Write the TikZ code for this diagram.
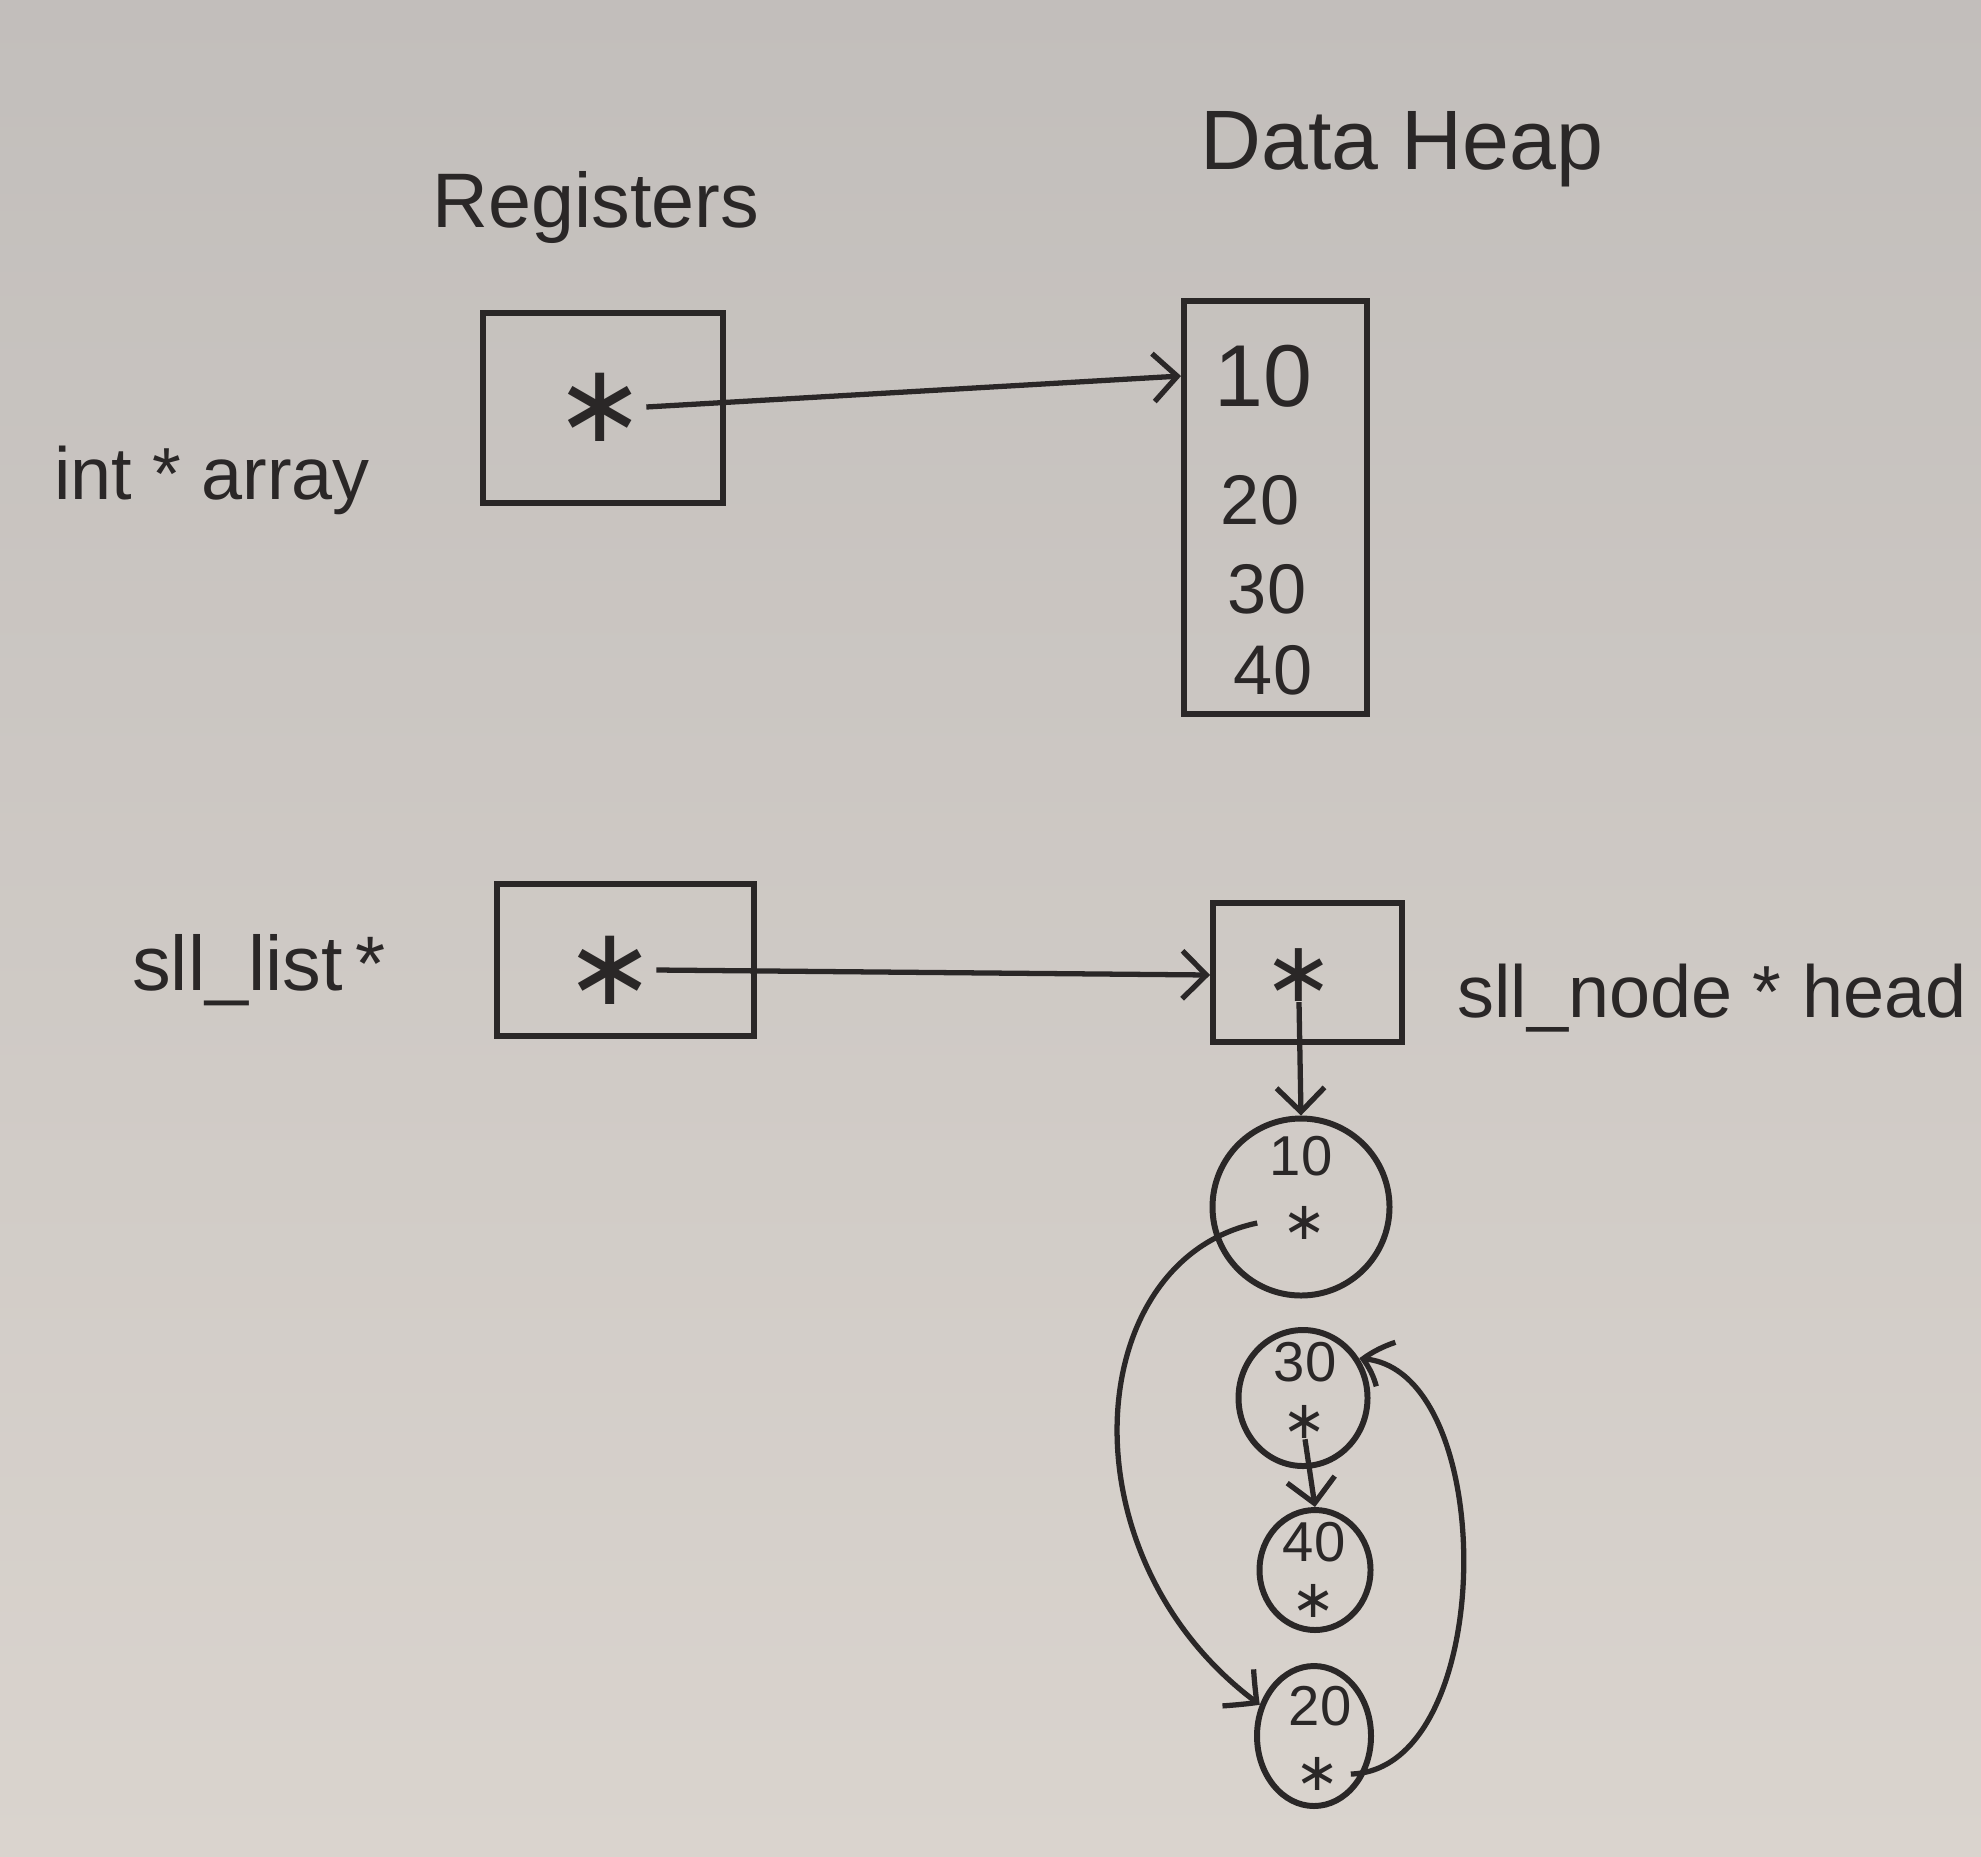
\documentclass[tikz,border=0pt]{standalone}
\usepackage{fontspec}
\setmainfont{Liberation Sans}
\newfontfamily\symfont{DejaVu Sans}
\usetikzlibrary{shapes.geometric,arrows.meta,bending}
\definecolor{ink}{RGB}{42,39,39}
\definecolor{boardtop}{RGB}{194,190,187}
\definecolor{boardbot}{RGB}{218,212,206}
\tikzset{
  stroke/.style={line width=1.7pt, draw=ink},
  box/.style={stroke, rectangle, inner sep=0pt},
  circ/.style={stroke, ellipse, inner sep=0pt},
  bigptr/.style={inner sep=0pt, text=ink, font=\symfont\fontsize{31}{31}\selectfont},
  smallptr/.style={inner sep=0pt, text=ink, font=\symfont\fontsize{15}{15}\selectfont},
  conn/.style={line width=1.5pt, draw=ink, -{Straight Barb[length=2.4mm,width=4.8mm,line width=1.5pt,bend]}},
  title/.style={inner sep=0pt, text=ink, font=\fontsize{23}{27}\selectfont},
  lbl/.style={inner sep=0pt, text=ink, font=\fontsize{21}{24}\selectfont},
  bigval/.style={inner sep=0pt, text=ink, font=\fontsize{25}{28}\selectfont},
  val/.style={inner sep=0pt, text=ink, font=\fontsize{20}{24}\selectfont},
  cval/.style={inner sep=0pt, text=ink, font=\fontsize{16}{19}\selectfont},
}
\begin{document}
\begin{tikzpicture}
\shade[top color=boardtop, bottom color=boardbot] (0,0) rectangle (19.81,-18.56);
\useasboundingbox (0,0) rectangle (19.81,-18.56);

% titles
\node[title, font=\fontsize{22}{26}\selectfont] (treg) at (5.96,-2.08) {Registers};
\node[title, font=\fontsize{24}{28}\selectfont] (theap) at (14.02,-1.49) {Data Heap};

% int * array
\node[lbl] (lblA) at (2.12,-4.80) {int * array};
\node[box, minimum width=2.40cm, minimum height=1.90cm] (reg1) at (6.03,-4.08) {};
\node[bigptr] (s1) at (6.00,-4.07) {∗};

\node[box, minimum width=1.83cm, minimum height=4.13cm] (arr) at (12.755,-5.075) {};
\node[bigval] (a1) at (12.63,-3.76) {10};
\node[val] (a2) at (12.60,-5.00) {20};
\node[val] (a3) at (12.67,-5.89) {30};
\node[val] (a4) at (12.73,-6.70) {40};

\draw[conn] (s1.east) -- (a1 -| arr.west);

% sll_list
\node[lbl, font=\fontsize{22}{25}\selectfont] (lblB) at (2.59,-9.70) {sll\_list\,*};
\node[box, minimum width=2.57cm, minimum height=1.52cm] (reg2) at (6.255,-9.60) {};
\node[bigptr] (s2) at (6.10,-9.70) {∗};

\node[box, minimum width=1.89cm, minimum height=1.39cm] (head) at (13.075,-9.725) {};
\node[smallptr, font=\symfont\fontsize{24}{24}\selectfont] (s3) at (12.99,-9.75) {∗};
\node[lbl] (lblC) at (17.12,-9.98) {sll\_node * head};

\draw[conn] (s2.east) -- (s3 -| head.west);

% list nodes
\node[circ, minimum width=1.77cm, minimum height=1.77cm] (c10) at (13.01,-12.07) {};
\node[cval] (c10v) at (13.01,-11.56) {10};
\node[smallptr] (c10p) at (13.05,-12.23) {∗};

\node[circ, minimum width=1.29cm, minimum height=1.36cm] (c30) at (13.03,-13.98) {};
\node[cval] (c30v) at (13.05,-13.62) {30};
\node[smallptr] (c30p) at (13.05,-14.22) {∗};

\node[circ, minimum width=1.11cm, minimum height=1.20cm] (c40) at (13.15,-15.70) {};
\node[cval] (c40v) at (13.14,-15.42) {40};
\node[smallptr] (c40p) at (13.14,-16.01) {∗};

\node[circ, minimum width=1.14cm, minimum height=1.40cm] (c20) at (13.14,-17.36) {};
\node[cval] (c20v) at (13.20,-17.06) {20};
\node[smallptr] (c20p) at (13.18,-17.74) {∗};

% pointers
\draw[conn] (s3.south) -- (c10.north);
\draw[conn] ([xshift=-2.5mm]c10p.west) .. controls (10.8,-12.6) and (10.6,-15.6) .. (c20.150);
\draw[conn] (c30p.south) -- (c40.north);
\draw[conn] ([xshift=1mm]c20p.east) .. controls (15.0,-17.7) and (15.0,-13.6) .. (c30.35);
\end{tikzpicture}
\end{document}
